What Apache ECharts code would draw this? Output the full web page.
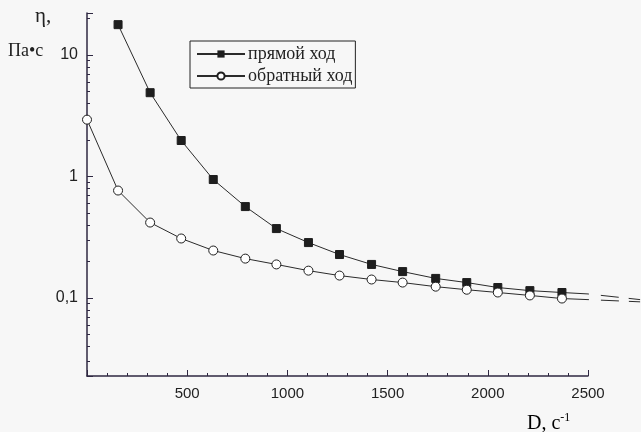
<!DOCTYPE html>
<html>
<head>
<meta charset="utf-8">
<script src="https://cdn.jsdelivr.net/npm/echarts@6/dist/echarts.min.js"></script>
<style>
  html, body { margin: 0; padding: 0; background: #f7f7f7; }
  #chart { width: 641px; height: 432px; }
</style>
</head>
<body>
<div id="chart"></div>
<script>
// shear rate D, 1/s
const shearUp = [155, 315, 470, 630, 790, 945, 1105, 1260, 1420, 1575, 1740, 1895, 2050, 2210, 2370];
const shearDown = [0, 155, 315, 470, 630, 790, 945, 1105, 1260, 1420, 1575, 1740, 1895, 2050, 2210, 2370];
// viscosity, Pa*s
const etaUp = [17.8, 4.9, 1.98, 0.945, 0.566, 0.373, 0.286, 0.228, 0.189, 0.165, 0.145, 0.134, 0.122, 0.115, 0.111];
const etaDown = [2.94, 0.767, 0.418, 0.309, 0.246, 0.211, 0.189, 0.168, 0.153, 0.142, 0.134, 0.124, 0.117, 0.111, 0.105, 0.099];
// tails drawn past the last point (solid bit, then dashed)
const tailUp = [[2370, 0.111], [2500, 0.108], [2760, 0.097]];
const tailDown = [[2370, 0.099], [2500, 0.097], [2760, 0.093]];
const seriesNames = ['прямой ход', 'обратный ход'];
const yLabels = { '10': '10', '1': '1', '0.1': '0,1' };

const ink = '#2b2b2b';
const axisInk = '#2f2842';
const yMin = 0.0228;
const yMax = 22.2;

const chart = echarts.init(document.getElementById('chart'));

const pair = (xs, ys) => xs.map((x, i) => [x, ys[i]]);

chart.setOption({
  backgroundColor: '#f7f7f7',
  animation: false,
  grid: [
    { left: 87, right: 53, top: 13, bottom: 56 },
    // wider twin grid, same scale, so the tails can run past 2500
    { left: 87, right: 1, top: 13, bottom: 56 }
  ],
  legend: {
    left: 190,
    top: 41,
    orient: 'vertical',
    data: seriesNames,
    itemWidth: 48,
    itemHeight: 9,
    itemGap: 4,
    padding: [4, 3, 3, 6],
    borderColor: '#222',
    borderWidth: 1,
    textStyle: { fontFamily: 'Liberation Serif', fontSize: 18, color: '#222', padding: [0, 0, 0, -2] }
  },
  xAxis: [{
    type: 'value',
    gridIndex: 0,
    min: 0,
    max: 2500,
    interval: 500,
    axisLine: { lineStyle: { color: axisInk, width: 1.5 } },
    axisTick: { inside: true, length: 6, lineStyle: { color: axisInk } },
    minorTick: { show: true, splitNumber: 5, length: 3, lineStyle: { color: axisInk } },
    splitLine: { show: false },
    axisLabel: {
      margin: 10,
      fontFamily: 'Liberation Sans',
      fontSize: 15,
      color: '#222',
      formatter: v => (v === 0 ? '' : String(v))
    }
  }, {
    type: 'value',
    gridIndex: 1,
    min: 0,
    max: 2500 * (641 - 1 - 87) / (641 - 53 - 87),
    show: false
  }],
  yAxis: [{
    type: 'log',
    gridIndex: 0,
    logBase: 10,
    min: yMin,
    max: yMax,
    axisLine: { show: true, lineStyle: { color: axisInk, width: 1.5 } },
    axisTick: { inside: true, length: 6, lineStyle: { color: axisInk } },
    minorTick: { show: true, splitNumber: 9, length: 3, lineStyle: { color: axisInk } },
    splitLine: { show: false },
    axisLabel: {
      margin: 9,
      showMinLabel: false,
      showMaxLabel: false,
      fontFamily: 'Liberation Sans',
      fontSize: 16,
      color: '#222',
      formatter: v => yLabels[String(+v.toPrecision(3))] || ''
    }
  }, {
    type: 'log',
    gridIndex: 1,
    logBase: 10,
    min: yMin,
    max: yMax,
    show: false
  }],
  graphic: [
    { type: 'text', left: 35, top: 6, style: { text: 'η,', font: '21px "Liberation Serif"', fill: '#222' } },
    { type: 'text', left: 8, top: 42, style: { text: 'Па•с', font: '18px "Liberation Serif"', fill: '#222' } },
    {
      type: 'text', left: 527, top: 412,
      style: {
        text: '{b|D, c}{s|-1}',
        rich: {
          b: { fontFamily: 'Liberation Serif', fontSize: 20, color: '#222' },
          s: { fontFamily: 'Liberation Serif', fontSize: 12, color: '#222', verticalAlign: 'top', padding: [0, 0, 12, 0] }
        }
      }
    }
  ],
  series: [
    {
      type: 'line', xAxisIndex: 1, yAxisIndex: 1, data: tailUp, symbol: 'none', silent: true, z: 1,
      lineStyle: { color: ink, width: 1, type: [27, 12, 18, 10] }
    },
    {
      type: 'line', xAxisIndex: 1, yAxisIndex: 1, data: tailDown, symbol: 'none', silent: true, z: 1,
      lineStyle: { color: ink, width: 1, type: [27, 12, 18, 10] }
    },
    {
      name: seriesNames[0],
      type: 'line',
      data: pair(shearUp, etaUp),
      symbol: 'rect',
      symbolSize: 8,
      itemStyle: { color: '#1e1e1e', borderColor: '#1e1e1e' },
      lineStyle: { color: ink, width: 1 }
    },
    {
      name: seriesNames[1],
      type: 'line',
      data: pair(shearDown, etaDown),
      symbol: 'circle',
      symbolSize: 9,
      clip: false,
      itemStyle: { color: '#ffffff', borderColor: '#1e1e1e', borderWidth: 1 },
      lineStyle: { color: ink, width: 1 }
    }
  ]
});
</script>
</body>
</html>
